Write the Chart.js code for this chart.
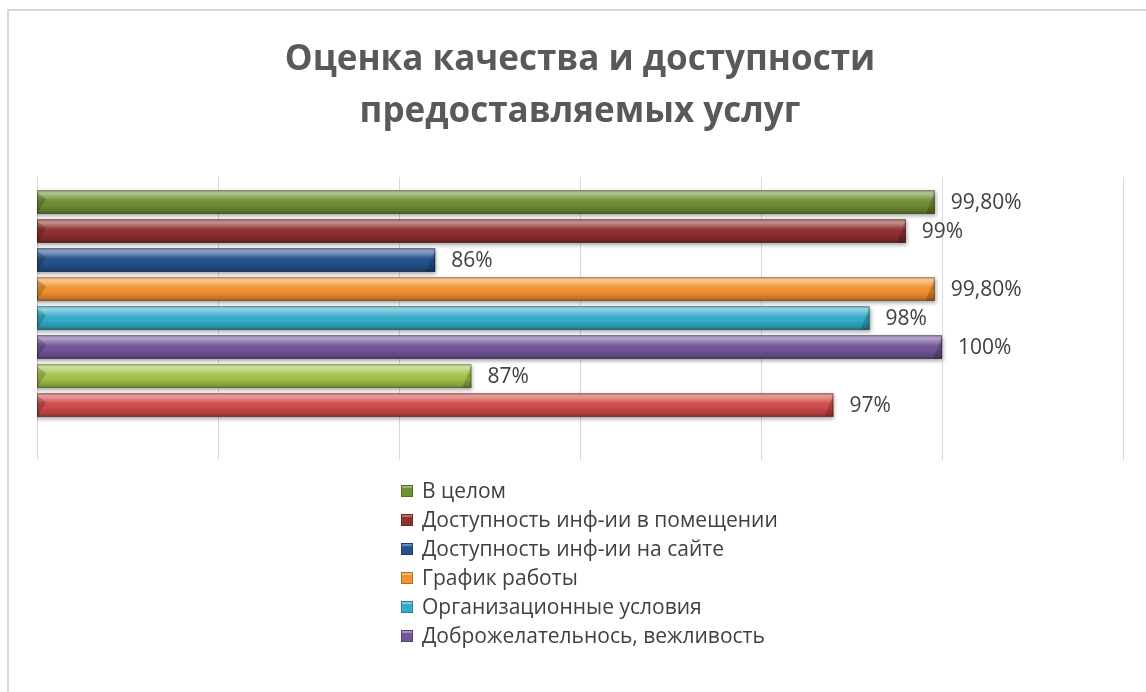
<!DOCTYPE html>
<html lang="ru">
<head>
<meta charset="utf-8">
<title>Оценка качества и доступности предоставляемых услуг</title>
<script src="https://cdn.jsdelivr.net/npm/chart.js@4.4.1/dist/chart.umd.min.js"></script>
<style>
    html, body { margin: 0; padding: 0; background: #fff; overflow: hidden; }
    #wrap { position: relative; width: 1146px; height: 692px; }
    #frame {
        position: absolute; left: 7px; top: 9px; width: 1200px; height: 800px;
        border: 2px solid #d9d9d9;
    }
    #chart { position: absolute; left: 0; top: 0; }
    #legend {
        position: absolute; left: 400px; top: 476px;
        font-family: "Open Sans", sans-serif; font-size: 21px; color: #404040;
    }
    .legend-item { height: 29px; line-height: 29px; display: flex; align-items: center; }
    .legend-box {
        display: block; flex: 0 0 12px; width: 12px; height: 12px;
        margin-right: 9px; margin-left: 1px; box-sizing: border-box;
        border: 1px solid rgba(0,0,0,0.25);
    }
</style>
</head>
<body>
<div id="wrap">
    <div id="frame"></div>
    <canvas id="chart" width="1146" height="692"></canvas>
    <div id="legend"></div>
</div>
<script>
// Chart data
const seriesNames = [
    'В целом',
    'Доступность инф-ии в помещении',
    'Доступность инф-ии на сайте',
    'График работы',
    'Организационные условия',
    'Доброжелательнось, вежливость',
    'Ряд 7',
    'Ряд 8'
];
const seriesValues = [99.8, 99, 86, 99.8, 98, 100, 87, 97];
const seriesColors = ['#6f8f33', '#8e302e', '#24528e', '#f39130', '#33adc9', '#74569a', '#a4c44a', '#d04a48'];
const categories = [''];
const axisMin = 75;
const axisMax = 105;
const axisStep = 5;
const legendCount = 6; // only the first six fit in the visible legend

function formatValue(v) {
    return Number.isInteger(v) ? v + '%' : v.toFixed(2).replace('.', ',') + '%';
}

// Soft shadow under the bars, glossy overlay, bevel corners and value labels
const barStylePlugin = {
    id: 'barStyle',
    beforeDatasetsDraw(chart) {
        const ctx = chart.ctx;
        ctx.save();
        ctx.shadowColor = 'rgba(0, 0, 0, 0.35)';
        ctx.shadowBlur = 4;
        ctx.shadowOffsetX = 1;
        ctx.shadowOffsetY = 2;
    },
    afterDatasetsDraw(chart) {
        const ctx = chart.ctx;
        const area = chart.chartArea;
        ctx.restore();
        ctx.save();
        chart.data.datasets.forEach((ds, i) => {
            const meta = chart.getDatasetMeta(i);
            meta.data.forEach((bar, j) => {
                const top = bar.y - bar.height / 2;
                const bottom = bar.y + bar.height / 2;
                const left = Math.max(area.left, Math.min(bar.base, bar.x));
                const right = Math.max(bar.base, bar.x);

                const grad = ctx.createLinearGradient(0, top, 0, bottom);
                grad.addColorStop(0, 'rgba(255,255,255,0.35)');
                grad.addColorStop(0.15, 'rgba(255,255,255,0.45)');
                grad.addColorStop(0.4, 'rgba(255,255,255,0.08)');
                grad.addColorStop(0.6, 'rgba(0,0,0,0.0)');
                grad.addColorStop(1, 'rgba(0,0,0,0.28)');
                ctx.fillStyle = grad;
                ctx.fillRect(left, top, right - left, bottom - top);

                // bevel at the ends
                ctx.fillStyle = 'rgba(0,0,0,0.18)';
                ctx.beginPath();
                ctx.moveTo(right, top + 1);
                ctx.lineTo(right, bottom);
                ctx.lineTo(right - 9, bottom);
                ctx.closePath();
                ctx.fill();
                ctx.beginPath();
                ctx.moveTo(left, top + 2);
                ctx.lineTo(left + 9, top + 9);
                ctx.lineTo(left, bottom);
                ctx.closePath();
                ctx.fill();

                ctx.strokeStyle = 'rgba(0,0,0,0.35)';
                ctx.lineWidth = 1;
                ctx.strokeRect(left + 0.5, top + 0.5, right - left - 1, bottom - top - 1);

                // value label
                ctx.fillStyle = '#404040';
                ctx.font = '21px "Open Sans", sans-serif';
                ctx.textAlign = 'left';
                ctx.textBaseline = 'middle';
                ctx.fillText(formatValue(ds.data[j]), right + 16, bar.y + 1);
            });
        });
        ctx.restore();
    }
};

const chart = new Chart(document.getElementById('chart'), {
    type: 'bar',
    data: {
        labels: categories,
        datasets: seriesNames.map((name, i) => ({
            label: name,
            data: [seriesValues[i]],
            backgroundColor: seriesColors[i],
            borderWidth: 0,
            categoryPercentage: 0.917,
            barPercentage: 0.81
        }))
    },
    options: {
        indexAxis: 'y',
        responsive: false,
        animation: false,
        layout: { padding: { left: 37, right: 23, top: 0, bottom: 232 } },
        plugins: {
            legend: { display: false },
            tooltip: { enabled: false },
            title: {
                display: true,
                text: ['Оценка качества и доступности', 'предоставляемых услуг'],
                color: '#595959',
                font: { family: '"Open Sans", sans-serif', size: 35, weight: 'bold', lineHeight: 1.486 },
                padding: { top: 34, bottom: 39 }
            }
        },
        scales: {
            x: {
                min: axisMin,
                max: axisMax,
                ticks: { display: false, stepSize: axisStep },
                grid: { color: '#d9d9d9', lineWidth: 1, drawTicks: true, tickLength: 30 },
                border: { display: false }
            },
            y: {
                display: false
            }
        }
    },
    plugins: [barStylePlugin]
});

// Legend, one item per line
const legendEl = document.getElementById('legend');
seriesNames.slice(0, legendCount).forEach((name, i) => {
    const item = document.createElement('div');
    item.className = 'legend-item';
    const box = document.createElement('span');
    box.className = 'legend-box';
    box.style.background = seriesColors[i];
    box.style.boxShadow = 'inset 0 2px 1px rgba(255,255,255,0.35)';
    const text = document.createElement('span');
    text.textContent = name;
    item.appendChild(box);
    item.appendChild(text);
    legendEl.appendChild(item);
});
</script>
</body>
</html>
